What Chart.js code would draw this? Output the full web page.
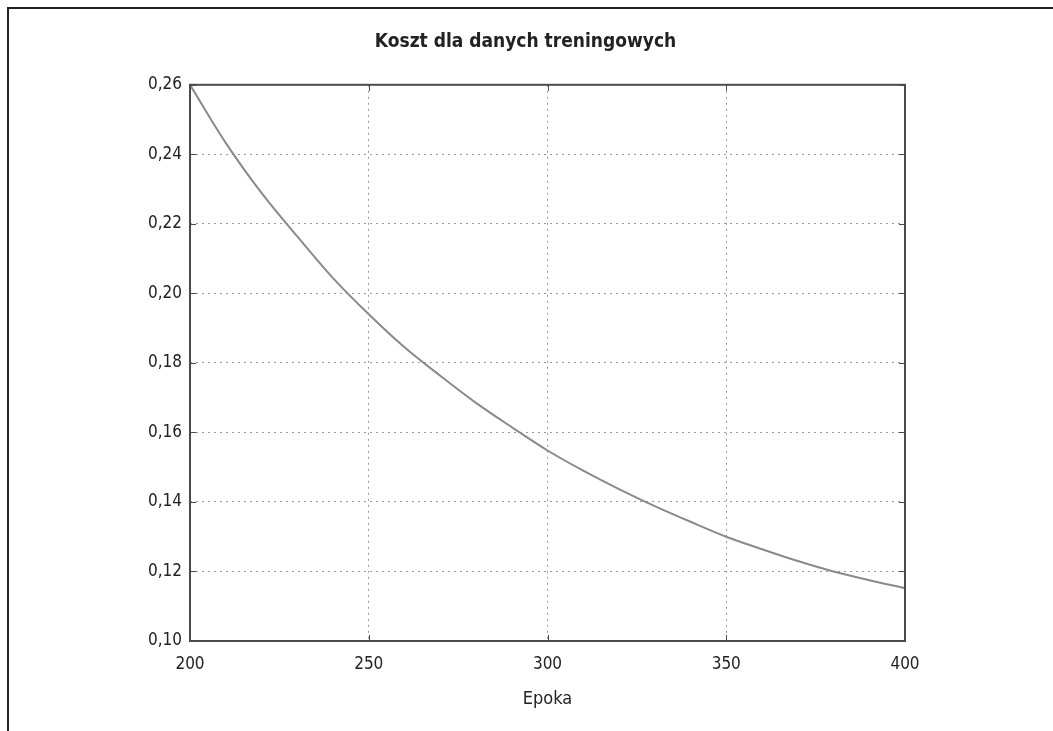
<!DOCTYPE html>
<html lang="pl">
<head>
    <meta charset="UTF-8">
    <title>Koszt dla danych treningowych</title>
    <style>
        html, body {
            margin: 0;
            padding: 0;
            background: #fff;
        }
        .wrap {
            position: relative;
            width: 1053px;
            height: 731px;
        }
        .frame {
            position: absolute;
            left: 7px;
            top: 7px;
            right: 0;
            bottom: 0;
            border-top: 2px solid #222;
            border-left: 2px solid #222;
            pointer-events: none;
        }
        canvas {
            position: absolute;
            left: 0;
            top: 0;
        }
    </style>
</head>
<body>
    <div class="wrap">
        <canvas id="costChart" width="1053" height="731"></canvas>
        <div class="frame"></div>
    </div>

    <script src="https://cdn.jsdelivr.net/npm/chart.js"></script>
    <script>
        // values
        const epochs = [200, 210, 220, 230, 240, 250, 260, 270, 280, 290, 300,
                        310, 320, 330, 340, 350, 360, 370, 380, 390, 400];
        const cost = [0.2600, 0.2433, 0.2289, 0.2164, 0.2044, 0.1940, 0.1845,
                      0.1763, 0.1685, 0.1615, 0.1548, 0.1490, 0.1437, 0.1388,
                      0.1343, 0.1300, 0.1264, 0.1230, 0.1200, 0.1175, 0.1152];
        const xTicks = [200, 250, 300, 350, 400];
        const yTicks = [0.10, 0.12, 0.14, 0.16, 0.18, 0.20, 0.22, 0.24, 0.26];

        const chartTitle = 'Koszt dla danych treningowych';
        const xTitle = 'Epoka';

        Chart.defaults.font.family = '"DejaVu Sans Condensed", "Liberation Sans Narrow", sans-serif';
        Chart.defaults.color = '#222';

        // box round the plot, with short inward ticks on all four sides
        const plotBox = {
            id: 'plotBox',
            afterDraw(chart) {
                const { ctx, chartArea: a, scales } = chart;
                ctx.save();
                ctx.strokeStyle = '#4a4a4a';
                ctx.lineWidth = 1;
                ctx.beginPath();
                xTicks.forEach(v => {
                    const px = Math.round(scales.x.getPixelForValue(v)) + 0.5;
                    ctx.moveTo(px, a.bottom); ctx.lineTo(px, a.bottom - 6);
                    ctx.moveTo(px, a.top); ctx.lineTo(px, a.top + 6);
                });
                yTicks.forEach(v => {
                    const py = Math.round(scales.y.getPixelForValue(v)) + 0.5;
                    ctx.moveTo(a.left, py); ctx.lineTo(a.left + 6, py);
                    ctx.moveTo(a.right, py); ctx.lineTo(a.right - 6, py);
                });
                ctx.stroke();
                ctx.lineWidth = 2;
                ctx.strokeRect(a.left, a.top, a.right - a.left, a.bottom - a.top);
                ctx.restore();
            }
        };

        const ctx = document.getElementById('costChart').getContext('2d');
        new Chart(ctx, {
            type: 'line',
            data: {
                datasets: [{
                    data: epochs.map((e, i) => ({ x: e, y: cost[i] })),
                    borderColor: '#8a8a8a',
                    borderWidth: 2,
                    pointRadius: 0,
                    cubicInterpolationMode: 'monotone',
                    fill: false
                }]
            },
            options: {
                responsive: false,
                animation: false,
                layout: {
                    padding: { left: 146, right: 148, top: 0, bottom: 0 }
                },
                plugins: {
                    legend: { display: false },
                    tooltip: { enabled: false },
                    title: {
                        display: true,
                        text: chartTitle,
                        color: '#222',
                        font: { size: 19, weight: 'bold' },
                        padding: { top: 31, bottom: 31 }
                    }
                },
                scales: {
                    x: {
                        type: 'linear',
                        min: 200,
                        max: 400,
                        afterBuildTicks: s => { s.ticks = xTicks.map(v => ({ value: v })); },
                        afterFit: s => { s.height = 90; },
                        grid: {
                            color: '#9a9a9a',
                            lineWidth: 1,
                            drawTicks: false
                        },
                        border: { display: false, dash: [2, 4] },
                        ticks: {
                            padding: 13,
                            font: { size: 17 },
                            maxRotation: 0
                        },
                        title: {
                            display: true,
                            text: xTitle,
                            font: { size: 18 },
                            padding: { top: 0, bottom: 21 }
                        }
                    },
                    y: {
                        min: 0.10,
                        max: 0.26,
                        afterBuildTicks: s => { s.ticks = yTicks.map(v => ({ value: v })); },
                        afterFit: s => { s.width = 44; },
                        grid: {
                            color: '#9a9a9a',
                            lineWidth: 1,
                            drawTicks: false
                        },
                        border: { display: false, dash: [2, 4] },
                        ticks: {
                            padding: 8,
                            font: { size: 17 },
                            callback: v => v.toFixed(2).replace('.', ',')
                        }
                    }
                }
            },
            plugins: [plotBox]
        });
    </script>
</body>
</html>
